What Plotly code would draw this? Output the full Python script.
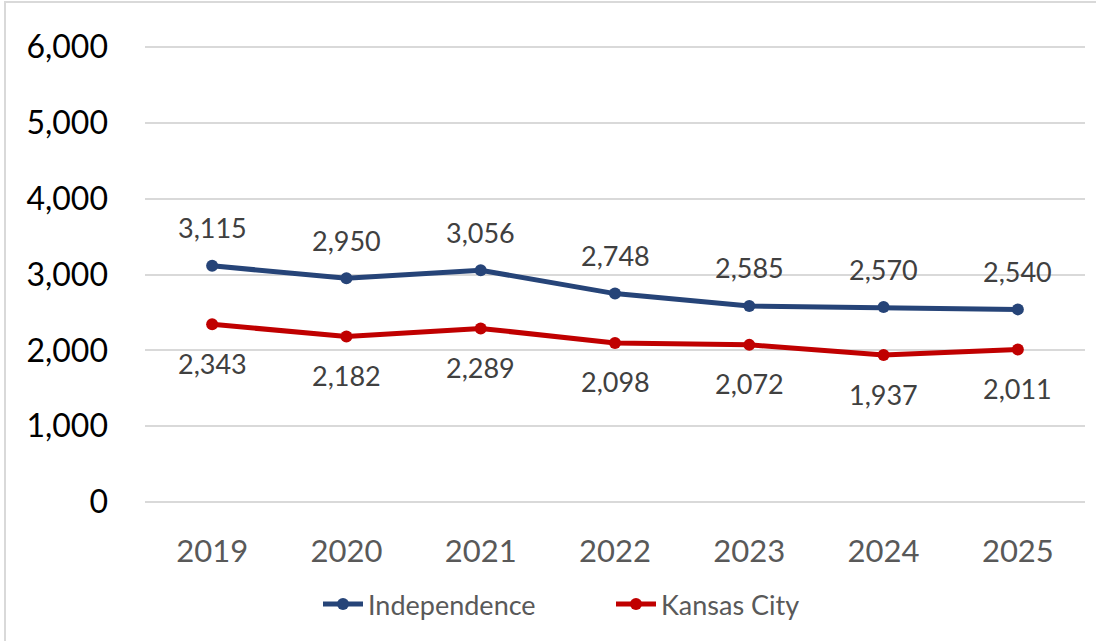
import plotly.graph_objects as go

years = ["2019", "2020", "2021", "2022", "2023", "2024", "2025"]
independence = [3115, 2950, 3056, 2748, 2585, 2570, 2540]
kansas_city = [2343, 2182, 2289, 2098, 2072, 1937, 2011]
y_ticks = [0, 1000, 2000, 3000, 4000, 5000, 6000]

BLUE = "#264478"
RED = "#C00000"
FONT = "Lato"

W, H = 1096, 641
L, R, T, B = 145, 11, 45, 139
pw, ph = W - L - R, H - T - B
Y_MAX = 6000 * ph / 455.0  # keeps the 6,000 gridline just inside the plot area

fig = go.Figure()
fig.add_trace(go.Scatter(x=years, y=independence, name="Independence",
                         mode="lines+markers",
                         line=dict(color=BLUE, width=5),
                         marker=dict(color=BLUE, size=12)))
fig.add_trace(go.Scatter(x=years, y=kansas_city, name="Kansas City",
                         mode="lines+markers",
                         line=dict(color=RED, width=5),
                         marker=dict(color=RED, size=12)))

for i, v in enumerate(independence):
    fig.add_annotation(x=i, y=v, text=f"{v:,}", showarrow=False, yshift=38,
                       font=dict(family=FONT, size=27, color="#404040"))
for i, v in enumerate(kansas_city):
    fig.add_annotation(x=i, y=v, text=f"{v:,}", showarrow=False, yshift=-39,
                       font=dict(family=FONT, size=27, color="#404040"))

# outer border
fig.add_shape(type="rect", xref="paper", yref="paper",
              x0=(5 - L) / pw, x1=(W + 10 - L) / pw,
              y0=(H - B - (H + 10)) / ph, y1=(H - B - 2) / ph,
              line=dict(color="#D9D9D9", width=2), layer="below")

fig.update_layout(
    width=W, height=H,
    margin=dict(l=L, r=R, t=T, b=B),
    paper_bgcolor="white", plot_bgcolor="white",
    showlegend=True,
    legend=dict(orientation="h", x=(318 - L) / pw, xanchor="left",
                y=(H - B - 580) / ph, yanchor="top",
                font=dict(family=FONT, size=27, color="#595959"),
                itemwidth=40, tracegroupgap=0,
                entrywidth=238, entrywidthmode="pixels"),
    xaxis=dict(type="category", range=[-0.5, len(years) - 0.5],
               showgrid=False, showline=False, zeroline=False,
               tickfont=dict(family=FONT, size=31, color="#595959"),
               ticks="", ticklabelstandoff=28),
    yaxis=dict(range=[0, Y_MAX], tickvals=y_ticks,
               ticktext=[f"{v:,}" for v in y_ticks],
               showgrid=True, gridcolor="#D9D9D9", gridwidth=2,
               zeroline=True, zerolinecolor="#D9D9D9", zerolinewidth=2,
               showline=False,
               tickfont=dict(family=FONT, size=32, color="#000000"),
               ticks="", ticklabelstandoff=36),
)

fig.write_html("out.html", config={"displayModeBar": False},
               post_script="document.body.style.margin='0';")
